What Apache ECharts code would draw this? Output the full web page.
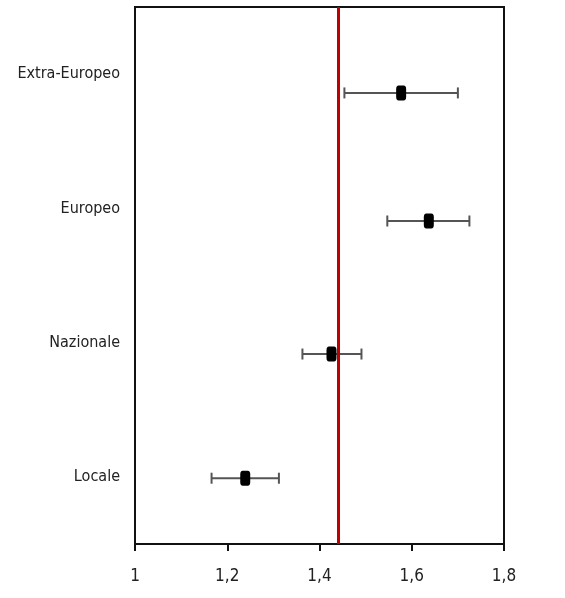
<!DOCTYPE html>
<html><head><meta charset="utf-8">
<script src="https://cdn.jsdelivr.net/npm/echarts@6/dist/echarts.min.js"></script>
<style>html,body{margin:0;padding:0;background:#fff}#c{width:565px;height:598px}</style>
</head><body><div id="c"></div>
<script>
// Categories, bottom to top
const categories = ['Locale', 'Nazionale', 'Europeo', 'Extra-Europeo'];
// Row positions (value scale 0..4, bottom to top)
const rowY = [0.49, 1.415, 2.406, 3.36];
// Point estimates and confidence intervals
const estimates = [1.239, 1.426, 1.637, 1.577];
const lowerCI = [1.166, 1.363, 1.547, 1.454];
const upperCI = [1.312, 1.491, 1.725, 1.700];
// Reference line
const referenceValue = 1.444;
// X ticks
const xTicks = [1, 1.2, 1.4, 1.6, 1.8];

const font = '"DejaVu Sans Condensed", "Liberation Sans Narrow", sans-serif';
const chart = echarts.init(document.getElementById('c'), null, {renderer: 'canvas'});

const errData = categories.map((c, i) => [lowerCI[i], upperCI[i], rowY[i]]);
const ptData = categories.map((c, i) => [estimates[i], rowY[i]]);

chart.setOption({
  animation: false,
  grid: {left: 135, right: 61, top: 7, bottom: 54, containLabel: false, outerBoundsMode: 'none',
    show: true, borderColor: '#111', borderWidth: 2, backgroundColor: '#fff'},
  xAxis: {
    type: 'value', min: xTicks[0], max: xTicks[xTicks.length - 1], interval: 0.2,
    axisLine: {show: true, lineStyle: {color: '#111', width: 2}},
    axisTick: {show: true, length: 7, lineStyle: {color: '#111', width: 2}},
    splitLine: {show: false},
    axisLabel: {color: '#222', fontFamily: font, fontSize: 17, margin: 24,
      formatter: v => String(Math.round(v * 10) / 10).replace('.', ',')}
  },
  yAxis: [
    {type: 'category', data: categories, boundaryGap: true,
      axisLine: {show: true, lineStyle: {color: '#111', width: 2}},
      axisTick: {show: false}, splitLine: {show: false},
      axisLabel: {color: '#222', fontFamily: font, fontSize: 16, margin: 15}},
    {type: 'value', min: 0, max: 4, show: false, splitLine: {show: false}}
  ],
  series: [
    {
      type: 'custom', xAxisIndex: 0, yAxisIndex: 1, data: errData, z: 3,
      renderItem: function (params, api) {
        const lo = api.coord([api.value(0), api.value(2)]);
        const hi = api.coord([api.value(1), api.value(2)]);
        const cap = 5.5;
        const st = {stroke: '#555', lineWidth: 2};
        return {type: 'group', children: [
          {type: 'line', shape: {x1: lo[0], y1: lo[1], x2: hi[0], y2: hi[1]}, style: st},
          {type: 'line', shape: {x1: lo[0], y1: lo[1] - cap, x2: lo[0], y2: lo[1] + cap}, style: st},
          {type: 'line', shape: {x1: hi[0], y1: hi[1] - cap, x2: hi[0], y2: hi[1] + cap}, style: st}
        ]};
      }
    },
    {
      type: 'scatter', xAxisIndex: 0, yAxisIndex: 1, data: ptData, z: 4,
      symbol: 'roundRect', symbolSize: [10, 15],
      itemStyle: {color: '#000', opacity: 1},
      markLine: {
        silent: true, symbol: 'none', label: {show: false},
        lineStyle: {color: '#c00000', width: 3, type: 'solid', opacity: 1},
        data: [{xAxis: referenceValue}]
      }
    }
  ]
});
</script>
</body></html>
